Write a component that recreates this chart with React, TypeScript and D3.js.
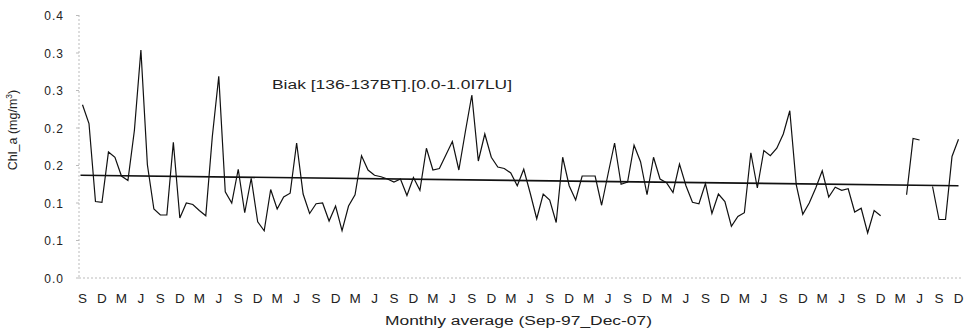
import React from "react";
import * as d3 from "d3";

const monthLabels = ["S", "D", "M", "J"];
const yTickValues = [0, 0.05, 0.1, 0.15, 0.2, 0.25, 0.3, 0.35];
const yTickLabels = ["0.0", "0.1", "0.1", "0.2", "0.2", "0.3", "0.3", "0.4"];

const chlValues: (number | null)[] = [
  0.231, 0.206, 0.102, 0.101, 0.168, 0.161, 0.136, 0.130, 0.197, 0.304,
  0.151, 0.092, 0.084, 0.084, 0.181, 0.080, 0.100, 0.098, 0.090, 0.083,
  0.188, 0.269, 0.115, 0.100, 0.145, 0.087, 0.133, 0.075, 0.063, 0.118,
  0.092, 0.108, 0.113, 0.180, 0.112, 0.086, 0.099, 0.100, 0.076, 0.096,
  0.063, 0.096, 0.111, 0.163, 0.144, 0.137, 0.135, 0.132, 0.128, 0.132,
  0.110, 0.134, 0.117, 0.173, 0.144, 0.146, 0.164, 0.182, 0.144, 0.195,
  0.244, 0.156, 0.192, 0.161, 0.148, 0.146, 0.140, 0.123, 0.145, 0.113,
  0.079, 0.112, 0.104, 0.074, 0.161, 0.123, 0.104, 0.136, 0.136, 0.136,
  0.097, 0.139, 0.180, 0.125, 0.128, 0.177, 0.155, 0.111, 0.161, 0.132,
  0.127, 0.114, 0.152, 0.123, 0.101, 0.099, 0.126, 0.086, 0.112, 0.102,
  0.069, 0.082, 0.087, 0.167, 0.120, 0.170, 0.163, 0.173, 0.192, 0.223,
  0.124, 0.085, 0.100, 0.120, 0.143, 0.108, 0.121, 0.117, 0.119, 0.088,
  0.093, 0.060, 0.090, 0.083, null, null, null, 0.111, 0.186, 0.184,
  null, 0.122, 0.078, 0.078, 0.162, 0.185,
];

const trendValues = [0.137, 0.123];

const annotation = "Biak [136-137BT].[0.0-1.0I7LU]";
const xTitle = "Monthly average (Sep-97_Dec-07)";
const yTitle = "Chl_a (mg/m";

export default function App() {
  const W = 967;
  const H = 335;
  const n = chlValues.length;
  const x = d3.scaleLinear().domain([0, n - 1]).range([82.5, 958.5]);
  const y = d3.scaleLinear().domain([0, 0.35]).range([278, 15.5]);

  const line = d3
    .line<number | null>()
    .defined((d) => d != null)
    .x((_, i) => x(i))
    .y((d) => y(d as number));

  const tickIdx = d3.range(0, n, 3);
  const font = "'Liberation Sans', Arial, sans-serif";

  return (
    <svg
      width={W}
      height={H}
      style={{ position: "absolute", left: 0, top: 0, background: "#fff" }}
      fontFamily={font}
    >
      {/* axes */}
      <line x1={79} x2={79} y1={15} y2={278} stroke="#bbb" strokeWidth={1} strokeDasharray="2,2" />
      <line x1={79} x2={961} y1={278} y2={278} stroke="#bbb" strokeWidth={1} strokeDasharray="2,2" />
      {yTickValues.map((v, i) => (
        <g key={i}>
          <line x1={76} x2={79} y1={y(v)} y2={y(v)} stroke="#bbb" />
          <text x={64} y={y(v) + 4.5} fontSize={12} textAnchor="end" fill="#222" letterSpacing={1}>
            {yTickLabels[i]}
          </text>
        </g>
      ))}
      {tickIdx.map((t, k) => (
        <text key={k} x={x(t)} y={303} fontSize={13.5} textAnchor="middle" fill="#222">
          {monthLabels[k % 4]}
        </text>
      ))}
      <text x={385} y={325} fontSize={12.5} fill="#222" textLength={267} lengthAdjust="spacingAndGlyphs">
        {xTitle}
      </text>
      <text
        transform="translate(17,130) rotate(-90)"
        fontSize={12.5}
        textAnchor="middle"
        fill="#222"
      >
        {yTitle}
        <tspan dy={-5} fontSize={8.5}>3</tspan>
        <tspan dy={5}>)</tspan>
      </text>
      <text x={272} y={89} fontSize={12.5} fill="#222" textLength={240} lengthAdjust="spacingAndGlyphs">
        {annotation}
      </text>

      {/* trend line */}
      <line
        x1={x(0) - 2}
        x2={x(n - 1)}
        y1={y(trendValues[0])}
        y2={y(trendValues[1])}
        stroke="#111"
        strokeWidth={1.6}
      />
      {/* data line */}
      <path d={line(chlValues) || ""} fill="none" stroke="#111" strokeWidth={1.2} strokeLinejoin="miter" />
    </svg>
  );
}
